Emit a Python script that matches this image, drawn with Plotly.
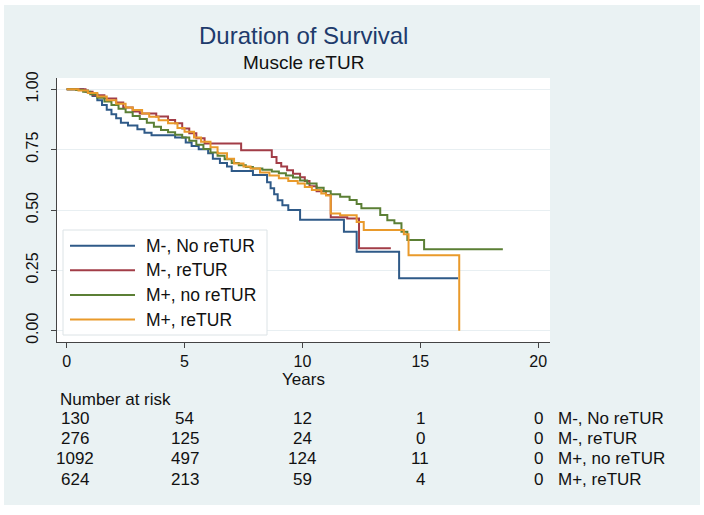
import plotly.graph_objects as go

# ---------------- data ----------------
groups = ["M-, No reTUR", "M-, reTUR", "M+, no reTUR", "M+, reTUR"]
colors = ["#2F5A88", "#A23D47", "#5B7F35", "#E99A2B"]

blue_t = [0, 0.7, 0.9, 1.1, 1.3, 1.5, 1.7, 1.9, 2.1, 2.3, 2.6, 3.0, 3.3, 3.6, 4.6, 5.05, 5.3, 5.6,
          6.0, 6.2, 6.5, 6.8, 7.0, 7.9, 8.5, 8.65, 8.8, 8.95, 9.15, 9.4, 9.9, 11.76, 12.3, 14.1, 16.6]
blue_s = [1.0, 0.995, 0.985, 0.972, 0.955, 0.935, 0.915, 0.897, 0.88, 0.862, 0.85, 0.835, 0.82, 0.81,
          0.80, 0.78, 0.765, 0.752, 0.735, 0.712, 0.695, 0.68, 0.662, 0.645, 0.615, 0.59, 0.565, 0.54,
          0.52, 0.50, 0.46, 0.41, 0.327, 0.217, 0.217]

red_t = [0, 0.8, 1.1, 1.6, 2.1, 2.4, 2.8, 3.1, 3.8, 4.3, 4.6, 4.9, 5.2, 5.5, 5.85, 7.4, 8.7, 8.9,
         9.1, 9.35, 9.6, 9.9, 10.1, 10.3, 10.6, 11.0, 11.2, 11.9, 12.4, 13.75]
red_s = [1.0, 0.99, 0.975, 0.962, 0.945, 0.925, 0.908, 0.90, 0.887, 0.873, 0.859, 0.838, 0.818, 0.797,
         0.776, 0.748, 0.72, 0.695, 0.68, 0.665, 0.65, 0.636, 0.62, 0.598, 0.578, 0.562, 0.47, 0.465,
         0.341, 0.341]

green_t = [0, 0.4, 0.7, 1.0, 1.3, 1.6, 1.9, 2.2, 2.5, 2.8, 3.1, 3.4, 3.7, 4.0, 4.3, 4.6, 4.9, 5.2,
           5.5, 5.8, 6.1, 6.4, 6.7, 7.0, 7.3, 7.6, 7.9, 8.3, 8.7, 9.0, 9.3, 9.6, 9.9, 10.2, 10.6,
           10.9, 11.2, 11.6, 12.0, 12.3, 12.5, 13.3, 13.6, 13.9, 14.2, 14.45, 15.16, 18.5]
green_s = [1.0, 0.997, 0.99, 0.98, 0.965, 0.95, 0.935, 0.92, 0.905, 0.89, 0.877, 0.862, 0.845, 0.831,
           0.822, 0.812, 0.80, 0.787, 0.77, 0.753, 0.738, 0.725, 0.71, 0.695, 0.685, 0.678, 0.672,
           0.667, 0.66, 0.652, 0.643, 0.635, 0.622, 0.61, 0.592, 0.578, 0.565, 0.555, 0.541, 0.525,
           0.507, 0.479, 0.458, 0.445, 0.41, 0.376, 0.337, 0.337]

orange_t = [0, 0.5, 0.9, 1.3, 1.7, 2.1, 2.5, 2.8, 3.2, 3.5, 3.9, 4.3, 4.7, 5.0, 5.4, 5.7, 6.1, 6.4,
            6.8, 7.1, 7.5, 7.8, 8.2, 8.6, 9.0, 9.4, 9.8, 10.1, 10.4, 10.8, 11.0, 11.2, 11.6, 12.3,
            12.6, 14.3, 14.5, 16.65]
orange_s = [1.0, 0.995, 0.985, 0.97, 0.955, 0.94, 0.925, 0.914, 0.90, 0.886, 0.872, 0.859, 0.84,
            0.824, 0.80, 0.783, 0.76, 0.735, 0.712, 0.693, 0.68, 0.672, 0.655, 0.643, 0.632, 0.62,
            0.61, 0.595, 0.583, 0.568, 0.56, 0.486, 0.478, 0.45, 0.417, 0.40, 0.313, 0.0]

risk_times = [0, 5, 10, 15, 20]
risk_m_minus_no = [130, 54, 12, 1, 0]
risk_m_minus_re = [276, 125, 24, 0, 0]
risk_m_plus_no = [1092, 497, 124, 11, 0]
risk_m_plus_re = [624, 213, 59, 4, 0]

x_ticks = [0, 5, 10, 15, 20]
y_ticks = [0, 0.25, 0.5, 0.75, 1.0]
y_ticktext = ["0.00", "0.25", "0.50", "0.75", "1.00"]

# ---------------- layout helpers ----------------
W_FIG, H_FIG = 704, 515
L, R, T, B = 57, 154, 78, 173
PW = W_FIG - L - R
PH = H_FIG - T - B


def pxx(xp):
    return (xp - L) / PW


def pyy(yp):
    return 1 - (yp - T) / PH


FONT = "Liberation Sans, Arial, Helvetica, sans-serif"
BG = "#EAF2F3"

curves = [(blue_t, blue_s), (red_t, red_s), (green_t, green_s), (orange_t, orange_s)]

fig = go.Figure()
for name, col, (tt, ss) in zip(groups, colors, curves):
    fig.add_trace(go.Scatter(x=tt, y=ss, mode="lines", name=name,
                             line=dict(color=col, width=2, shape="hv"),
                             showlegend=False, hoverinfo="skip"))

shapes = [
    # light background panel
    dict(type="rect", xref="paper", yref="paper", layer="below",
         x0=pxx(4), x1=pxx(700), y0=pyy(505), y1=pyy(5),
         fillcolor=BG, line=dict(width=0)),
    # white plot region
    dict(type="rect", xref="paper", yref="paper", layer="below",
         x0=0, x1=1, y0=0, y1=1, fillcolor="white", line=dict(width=0)),
]

annotations = [
    dict(text="Duration of Survival", xref="paper", yref="paper", x=0.5, y=pyy(36),
         xanchor="center", yanchor="middle", showarrow=False,
         font=dict(family=FONT, size=24, color="#1E3B6C")),
    dict(text="Muscle reTUR", xref="paper", yref="paper", x=0.5, y=pyy(62),
         xanchor="center", yanchor="middle", showarrow=False,
         font=dict(family=FONT, size=19, color="#111111")),
    dict(text="Number at risk", xref="paper", yref="paper", x=pxx(58), y=pyy(399),
         xanchor="left", yanchor="middle", showarrow=False,
         font=dict(family=FONT, size=17, color="#111111")),
]

# legend (drawn box, sample lines and labels)
leg_rows = [245.7, 270.3, 295, 319.5]
shapes.append(dict(type="rect", xref="paper", yref="paper", layer="above",
                   x0=pxx(63), x1=pxx(267), y0=pyy(335), y1=pyy(230),
                   fillcolor="white", line=dict(color="#DCE3E6", width=1)))
for name, col, yr in zip(groups, colors, leg_rows):
    shapes.append(dict(type="line", xref="paper", yref="paper", layer="above",
                       x0=pxx(70), x1=pxx(135), y0=pyy(yr), y1=pyy(yr),
                       line=dict(color=col, width=2)))
    annotations.append(dict(text=name, xref="paper", yref="paper", x=pxx(144), y=pyy(yr),
                            xanchor="left", yanchor="middle", showarrow=False,
                            font=dict(family=FONT, size=17.5, color="#111111")))

# number-at-risk table
risk_rows = [risk_m_minus_no, risk_m_minus_re, risk_m_plus_no, risk_m_plus_re]
row_y = [418, 438, 458, 479]
for name, vals, yr in zip(groups, risk_rows, row_y):
    for i, (tv, v) in enumerate(zip(risk_times, vals)):
        annotations.append(dict(text=str(v), xref="x", yref="paper", x=tv, y=pyy(yr),
                                xanchor="center", yanchor="middle", showarrow=False,
                                xshift=8 if i == 0 else 0,
                                font=dict(family=FONT, size=17, color="#111111")))
    annotations.append(dict(text=name, xref="paper", yref="paper", x=pxx(556), y=pyy(yr),
                            xanchor="left", yanchor="middle", showarrow=False,
                            font=dict(family=FONT, size=17, color="#111111")))

fig.update_layout(
    width=W_FIG, height=H_FIG,
    margin=dict(l=L, r=R, t=T, b=B, pad=0),
    paper_bgcolor="white", plot_bgcolor="white",
    font=dict(family=FONT, size=16, color="#111111"),
    shapes=shapes, annotations=annotations,
    showlegend=False,
    xaxis=dict(range=[-0.41, 20.5], tickvals=x_ticks, ticks="outside", ticklen=5,
               tickcolor="#444444", showline=True, linecolor="#444444", linewidth=1,
               showgrid=False, zeroline=False, tickfont=dict(size=16, color="#111111"),
               title=dict(text="Years", standoff=2, font=dict(size=17, color="#111111"))),
    yaxis=dict(range=[-0.047, 1.047], tickvals=y_ticks, ticktext=y_ticktext, tickangle=-90,
               ticks="outside", ticklen=5, tickcolor="#444444", showline=True,
               linecolor="#444444", linewidth=1, showgrid=True, gridcolor="#E8EFF2",
               gridwidth=1, zeroline=False, tickfont=dict(size=16, color="#111111"),
               ticklabelstandoff=7),
)

fig.write_html("out.html", config={"displayModeBar": False},
               post_script="document.body.style.margin='0';document.body.style.overflow='hidden';")
